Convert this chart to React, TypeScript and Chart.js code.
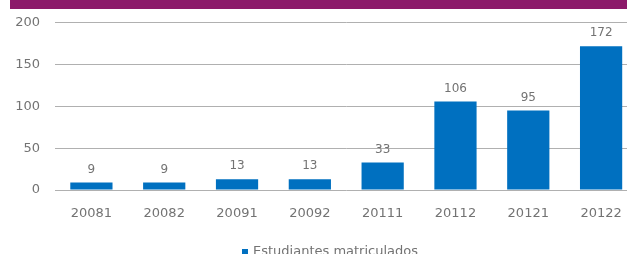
import React, { useEffect, useRef } from "react";
import { Chart, registerables } from "chart.js";

Chart.register(...registerables);

const categories = ["20081", "20082", "20091", "20092", "20111", "20112", "20121", "20122"];
const seriesName = "Estudiantes matriculados";
const values = [9, 9, 13, 13, 33, 106, 95, 172];
const yTicks = [0, 50, 100, 150, 200];

const FONT = "'DejaVu Sans', sans-serif";
const TEXT = "#737373";
const BAR = "#0070C0";

const valueLabels = {
  id: "valueLabels",
  afterDatasetsDraw(chart: any) {
    const ctx = chart.ctx;
    const meta = chart.getDatasetMeta(0);
    ctx.save();
    ctx.font = `12px ${FONT}`;
    ctx.fillStyle = TEXT;
    ctx.textAlign = "center";
    ctx.textBaseline = "middle";
    meta.data.forEach((el: any, i: number) => {
      ctx.fillText(String(values[i]), el.x, el.y - 13);
    });
    ctx.restore();
  },
};

const bottomLegend = {
  id: "bottomLegend",
  afterDraw(chart: any) {
    const ctx = chart.ctx;
    const ds = chart.data.datasets[0];
    ctx.save();
    ctx.font = `13px ${FONT}`;
    const tw = ctx.measureText(ds.label).width;
    const box = 6;
    const gap = 5;
    const cx = 330;
    const cy = chart.chartArea.bottom + 62;
    const x0 = cx - (box + gap + tw) / 2;
    ctx.fillStyle = ds.backgroundColor;
    ctx.fillRect(x0, cy - box / 2, box, box);
    ctx.fillStyle = TEXT;
    ctx.textAlign = "left";
    ctx.textBaseline = "middle";
    ctx.fillText(ds.label, x0 + box + gap, cy);
    ctx.restore();
  },
};

export default function App() {
  const ref = useRef<HTMLCanvasElement | null>(null);
  useEffect(() => {
    if (!ref.current) return;
    const chart = new Chart(ref.current, {
      type: "bar",
      data: {
        labels: categories,
        datasets: [
          {
            label: seriesName,
            data: values,
            backgroundColor: BAR,
            borderWidth: 0,
            categoryPercentage: 1,
            barPercentage: 0.58,
          },
        ],
      },
      options: {
        animation: false,
        responsive: false,
        maintainAspectRatio: false,
        layout: { padding: { left: 0, right: 20.5, top: 21, bottom: 32 } },
        plugins: {
          tooltip: { enabled: false },
          legend: { display: false },
        },
        scales: {
          x: {
            grid: { display: false, drawTicks: false },
            border: { display: false },
            ticks: { color: TEXT, font: { family: FONT, size: 13 }, padding: 16, maxRotation: 0 },
            afterFit(scale: any) {
              scale.height = 44;
            },
          },
          y: {
            min: 0,
            max: 200,
            afterBuildTicks(scale: any) {
              scale.ticks = yTicks.map((v) => ({ value: v }));
            },
            grid: { color: "#b0b0b0", lineWidth: 1, drawTicks: false },
            border: { display: false },
            ticks: { color: TEXT, font: { family: FONT, size: 13 }, padding: 15 },
            afterFit(scale: any) {
              scale.width = 55;
            },
          },
        },
      },
      plugins: [valueLabels, bottomLegend],
    });
    return () => chart.destroy();
  }, []);

  return (
    <div style={{ position: "fixed", left: 0, top: 0, width: 627, height: 254, overflow: "hidden", background: "#fff" }}>
      <div style={{ position: "absolute", left: 10, top: 0, width: 617, height: 9, background: "#8C1A6A" }} />
      <canvas ref={ref} width={658} height={266} style={{ position: "absolute", left: 0, top: 0, width: 658, height: 266 }} />
    </div>
  );
}
